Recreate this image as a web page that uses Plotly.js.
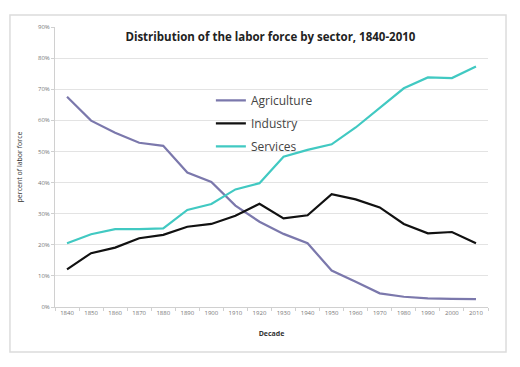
<!DOCTYPE html>
<html>
<head>
<meta charset="utf-8">
<script src="https://cdn.plot.ly/plotly-3.0.1.min.js"></script>
<style>html,body{margin:0;padding:0;background:#fff;}#chart{width:520px;height:367px;}</style>
</head>
<body>
<div id="chart"></div>
<script>
var decades = ["1840","1850","1860","1870","1880","1890","1900","1910","1920","1930","1940","1950","1960","1970","1980","1990","2000","2010"];
var agriculture = [67.6,59.9,56.0,52.8,51.8,43.2,40.2,32.6,27.4,23.5,20.5,11.7,8.1,4.4,3.3,2.8,2.6,2.5];
var industry = [12.1,17.3,19.1,22.1,23.2,25.8,26.7,29.3,33.2,28.5,29.5,36.3,34.6,32.0,26.7,23.7,24.1,20.5];
var services = [20.5,23.4,25.0,25.0,25.3,31.2,33.1,37.8,39.8,48.3,50.5,52.3,57.7,64.1,70.3,73.8,73.6,77.3];
var seriesNames = ["Agriculture","Industry","Services"];
var seriesColors = ["#7b78ac","#111111","#41c9c2"];
var yTickVals = [0,10,20,30,40,50,60,70,80,90];
var yTickText = ["0%","10%","20%","30%","40%","50%","60%","70%","80%","90%"];

var allSeries = [agriculture, industry, services];
var traces = allSeries.map(function(s, i){
  return {x: decades, y: s, name: seriesNames[i], type: 'scatter', mode: 'lines',
    line: {color: seriesColors[i], width: 2.2}, legendgroup: 'g'+i};
});

var layout = {
  width: 520, height: 367,
  margin: {l: 55, r: 32, t: 27, b: 60},
  paper_bgcolor: '#ffffff', plot_bgcolor: '#ffffff',
  font: {family: 'Open Sans, sans-serif'},
  title: {text: 'Distribution of the labor force by sector, 1840-2010',
    font: {family: 'Open Sans, sans-serif', size: 11.5, color: '#222', weight: 'bold'},
    x: 0.52, xanchor: 'center', y: 0.9, yanchor: 'middle'},
  showlegend: true,
  legend: {x: 0.36, xanchor: 'left', y: 0.79, yanchor: 'top', bgcolor: 'rgba(0,0,0,0)',
    font: {family: 'Open Sans, sans-serif', size: 12, color: '#444'},
    itemwidth: 30, tracegroupgap: 4},
  xaxis: {type: 'category', range: [-0.5, decades.length - 0.5],
    tickson: 'boundaries', ticks: 'outside', ticklen: 3,
    tickcolor: '#d0d0d0', showline: true, linecolor: '#d0d0d0', linewidth: 1,
    showgrid: false, tickfont: {size: 6, color: '#777'}, tickangle: 0,
    title: {text: 'Decade', font: {size: 7, color: '#333', weight: 'bold'}, standoff: 14},
    fixedrange: true},
  yaxis: {range: [0, 90], tickvals: yTickVals, ticktext: yTickText,
    showgrid: true, gridcolor: '#e3e3e3', gridwidth: 1,
    showline: true, linecolor: '#d0d0d0', ticks: 'outside', ticklen: 3, tickcolor: '#d0d0d0',
    zeroline: false, tickfont: {size: 6, color: '#777'},
    title: {text: 'percent of labor force', font: {size: 7, color: '#333'}, standoff: 14},
    fixedrange: true},
  shapes: [{type: 'rect', xref: 'paper', yref: 'paper', x0: -0.104, x1: 1.0416, y0: -0.161, y1: 1.043,
    line: {color: '#dcdcdc', width: 1.5}, fillcolor: 'rgba(0,0,0,0)', layer: 'below'}]
};

Plotly.newPlot('chart', traces, layout, {displayModeBar: false, staticPlot: true});
</script>
</body>
</html>
